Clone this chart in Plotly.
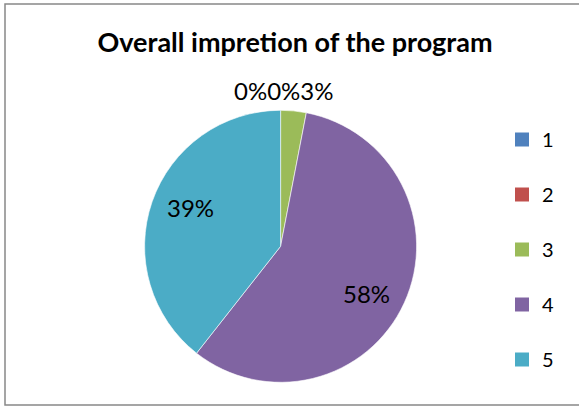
import math
import plotly.graph_objects as go

# Data
categories = ["1", "2", "3", "4", "5"]
counts = [0, 0, 1, 19, 13]
colors = ["#4F81BD", "#C0504D", "#9BBB59", "#8064A2", "#4BACC6"]
title_text = "Overall impretion of the program"

W, H = 579, 409
total = sum(counts)
pcts = [round(v / total * 100) for v in counts]

# pie geometry (pixels)
cx, cy, r = 280.6, 246.3, 136.0

fig = go.Figure()
fig.add_trace(go.Pie(
    labels=categories,
    values=counts,
    sort=False,
    direction="clockwise",
    rotation=0,
    marker=dict(colors=colors, line=dict(color="white", width=0.6)),
    textinfo="none",
    showlegend=False,
    hoverinfo="label+value+percent",
    domain=dict(x=[(cx - r) / W, (cx + r) / W],
                y=[1 - (cy + r) / H, 1 - (cy - r) / H]),
))

# legend entries (one per category) for spacing control
for cat, col in zip(categories, colors):
    fig.add_trace(go.Scatter(
        x=[None], y=[None], mode="markers", name=cat,
        marker=dict(symbol="square", size=14, color=col),
        legendgroup=cat, showlegend=True, hoverinfo="skip",
    ))

lab_font = dict(family="Lato", size=24, color="black")

# labels inside the large slices, placed near their mid-angle
cum = 0
for v, p in zip(counts, pcts):
    if v / total >= 0.10:
        mid = (cum + v / 2) / total * 2 * math.pi + math.radians(4)
        px = cx + 0.72 * r * math.sin(mid)
        py = cy - 0.72 * r * math.cos(mid)
        fig.add_annotation(text=f"{p}%", xref="paper", yref="paper",
                           x=px / W, y=1 - py / H, xanchor="center",
                           yanchor="middle", showarrow=False, font=lab_font)
    cum += v

# small-slice labels shown above the pie
top_label = "".join(f"{p}%" for v, p in zip(counts, pcts) if v / total < 0.10)
fig.add_annotation(
    text=top_label, xref="paper", yref="paper",
    x=283.5 / W, y=1 - 90.5 / H, xanchor="center", yanchor="middle",
    showarrow=False, font=lab_font,
)

fig.update_layout(
    width=W, height=H,
    margin=dict(l=0, r=0, t=0, b=0),
    paper_bgcolor="white", plot_bgcolor="white",
    title=dict(text=f"<b>{title_text}</b>", x=295 / W, xanchor="center",
               y=1 - 43 / H, yanchor="middle",
               font=dict(family="Lato", size=27, color="black")),
    xaxis=dict(visible=False), yaxis=dict(visible=False),
    legend=dict(x=502 / W, y=1 - 120 / H, xanchor="left", yanchor="top",
                font=dict(family="Lato", size=20, color="black"),
                tracegroupgap=26, bgcolor="rgba(0,0,0,0)", itemclick=False),
    shapes=[dict(type="rect", xref="paper", yref="paper",
                 x0=5 / W, x1=1.05, y0=1 - 405 / H, y1=1 - 4 / H,
                 line=dict(color="#888888", width=1.5), layer="above")],
)

fig.write_html("out.html", config={"displayModeBar": False},
               post_script="document.body.style.margin='0';")
